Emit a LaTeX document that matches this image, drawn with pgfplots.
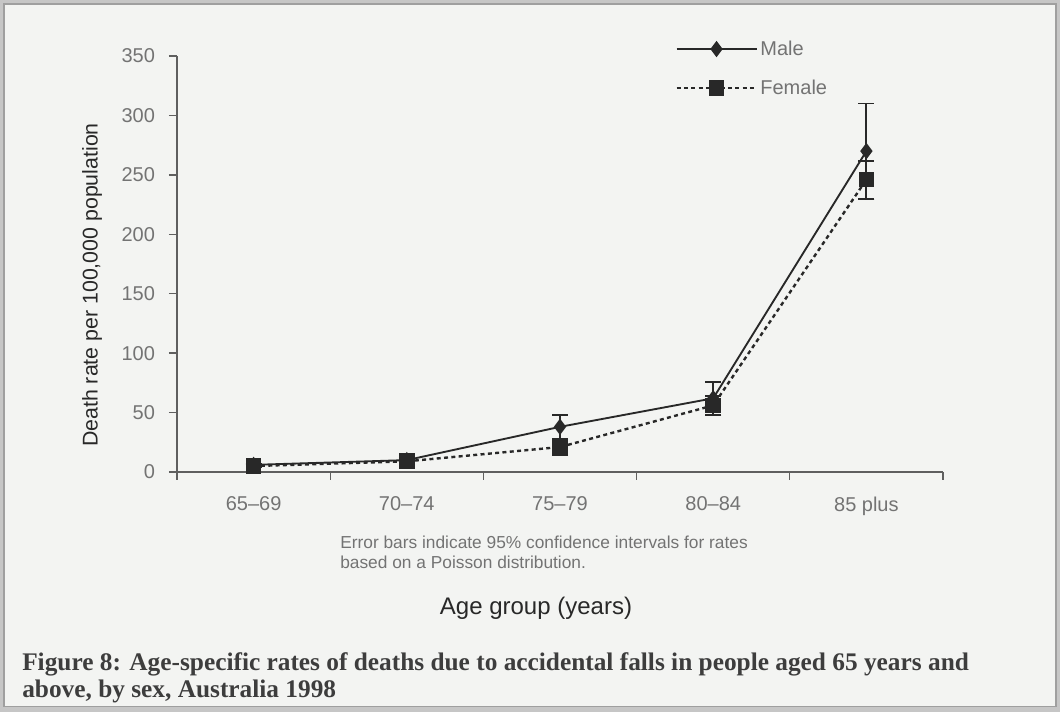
\documentclass[border=0pt]{standalone}
\usepackage{fontspec}
\setmainfont{Liberation Sans}
\newfontfamily\capfont{Liberation Serif}
\usepackage{pgfplots}
\pgfplotsset{compat=1.18}
\definecolor{bg}{RGB}{243,244,242}
\definecolor{ink}{RGB}{40,40,40}
\definecolor{lbl}{RGB}{115,115,115}
\definecolor{axisgray}{RGB}{95,95,95}

\begin{document}
\begin{tikzpicture}
% page frame (1px = 0.75pt)
\fill[gray!45] (0,0) rectangle (795pt,-534pt);
\fill[bg] (3pt,-3pt) rectangle (792pt,-530pt);
\draw[gray!75, line width=0.8pt] (3pt,-3pt) rectangle (792pt,-530pt);

\begin{axis}[
  at={(132.75pt,-354pt)}, anchor=south west,
  scale only axis, width=574.5pt, height=312pt,
  xmin=-0.5, xmax=4.5, ymin=0, ymax=350,
  axis lines=left, axis line style={-, axisgray, line width=1.5pt},
  xtick={-0.5,0.5,...,4.5}, xticklabels={,,,,,},
  extra x ticks={0,1,2,3,4},
  extra x tick labels={65--69,70--74,75--79,80--84,85 plus},
  extra x tick style={tick style={draw=none},
    xticklabel style={yshift=-9pt}},
  ytick={0,50,...,350},
  tick align=outside, major tick length=6pt,
  tick style={axisgray, line width=1pt},
  /pgf/number format/assume math mode=true,
  ticklabel style={font=\fontsize{15}{18}\selectfont, text=lbl},
  yticklabel style={xshift=-7pt},
  legend style={at={(0.645,1.05)}, anchor=north west, draw=none, fill=none,
    font=\fontsize{15}{18}\selectfont, text=lbl, row sep=13pt},
  legend cell align=left,
  legend image code/.code={\draw[mark repeat=2,mark phase=2,#1]
    plot coordinates {(0pt,0pt) (30pt,0pt) (60pt,0pt)};},
]
\addplot[ink, line width=1.4pt, mark=diamond*, mark size=5pt,
  mark options={fill=ink},
  error bars/.cd, y dir=both, y explicit, error mark=-,
  error bar style={line width=1.4pt, draw=ink},
  error mark options={rotate=90, mark size=6pt, line width=1.4pt, draw=ink}]
  coordinates {(0,6) +- (0,1) (1,10) +- (0,2) (2,38) +- (0,10)
               (3,62) +- (0,14) (4,270) +- (0,40)};
\addlegendentry{Male}
\addplot[ink, line width=1.8pt, dash pattern=on 3pt off 2.5pt,
  mark=square*, mark size=5pt, mark options={solid, fill=ink},
  error bars/.cd, y dir=both, y explicit, error mark=-,
  error bar style={line width=1.4pt, draw=ink, solid},
  error mark options={rotate=90, mark size=6pt, line width=1.4pt, draw=ink, solid}]
  coordinates {(0,5) +- (0,1) (1,9) +- (0,2) (2,21) +- (0,7)
               (3,56) +- (0,8) (4,246) +- (0,16)};
\addlegendentry{Female}
\end{axis}

% axis titles and notes
\node[rotate=90, text=ink, font=\fontsize{16}{18}\selectfont] at (69pt,-213.75pt)
  {Death rate per 100,000 population};
\node[text=lbl, font=\fontsize{13}{15}\selectfont, anchor=north west, align=left, inner sep=0pt]
  at (255pt,-402pt)
  {Error bars indicate 95\% confidence intervals for rates\\based on a Poisson distribution.};
\node[text=ink, font=\fontsize{18}{20}\selectfont] at (402pt,-456pt) {Age group (years)};
\node[text=ink!90, font=\capfont\bfseries\fontsize{19}{20.5}\selectfont, anchor=north west,
  align=left, inner sep=0pt] at (16.5pt,-489pt)
  {Figure 8: Age-specific rates of deaths due to accidental falls in people aged 65 years and\\
   above, by sex, Australia 1998};
\end{tikzpicture}
\end{document}
